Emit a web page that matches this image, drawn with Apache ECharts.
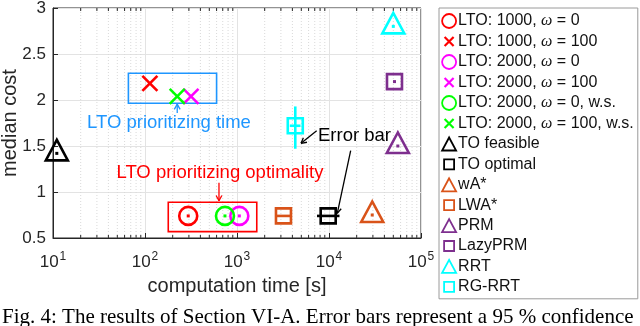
<!DOCTYPE html>
<html><head><meta charset="utf-8">
<script src="https://cdn.jsdelivr.net/npm/echarts@6/dist/echarts.min.js"></script>
<style>html,body{margin:0;padding:0;background:#fff}#c{width:640px;height:326px}</style>
</head><body><div id="c"></div>
<script>
const FONT = '"Liberation Sans", Arial, Helvetica, sans-serif';
const SERIF = '"Liberation Serif", "Times New Roman", serif';

// axis ticks
const xTicks = [10, 100, 1000, 10000, 100000];
const yTicks = [0.5, 1, 1.5, 2, 2.5, 3];
const minorX = [20,30,40,50,60,70,80,90, 200,300,400,500,600,700,800,900,
                2000,3000,4000,5000,6000,7000,8000,9000, 20000,30000,40000,50000,60000,70000,80000,90000];

// data: [time, cost, xErrLo, xErrHi, yErrLo, yErrHi]
const lto1000w0     = [[295, 0.74]];
const lto1000w100   = [[113, 2.18]];
const lto2000w0     = [[1060, 0.74]];
const lto2000w100   = [[316, 2.04]];
const lto2000w0ws   = [[740, 0.74]];
const lto2000w100ws = [[224, 2.04]];
const toFeasible    = [[11, 1.42]];
const toOptimal     = [[9800, 0.74, 7400, 13000, null, null]];
const wAstar        = [[29500, 0.75]];
const lwaStar       = [[3200, 0.74, 2650, 3850, null, null]];
const prm           = [[56000, 1.50]];
const lazyPrm       = [[51500, 2.20]];
const rrt           = [[50000, 2.80]];
const rgRrt         = [[4300, 1.72, 3750, 4900, 1.47, 1.93]];

// annotations (data coords)
const timeBox   = [[66, 1.965, 600, 2.29]];
const optBox    = [[179, 0.569, 1640, 0.888]];
const timeLabel = [[182, 1.75, 'LTO prioritizing time']];
const optLabel  = [[653, 1.207, 'LTO prioritizing optimality']];
const errLabel  = [[7590, 1.609, 'Error bar']];
const timeArrow = [[224, 1.86, 224, 1.955]];
const optArrow  = [[637, 1.10, 637, 0.905]];
const errArrows = [[7340, 1.666, 4970, 1.529], [17200, 1.449, 12300, 0.768]];

const BLUE = '#1E96FF';
const C = {
  red: '#FF0000', mag: '#FF00FF', grn: '#00FF00', blk: '#000000',
  org: '#D95319', pur: '#7E2F8E', cyn: '#00FFFF'
};

const seriesDefs = [
  {name: 'LTO: 1000, ω = 0', kind: 'circle', color: C.red, data: lto1000w0},
  {name: 'LTO: 1000, ω = 100', kind: 'cross', color: C.red, data: lto1000w100},
  {name: 'LTO: 2000, ω = 0', kind: 'circle', color: C.mag, data: lto2000w0},
  {name: 'LTO: 2000, ω = 100', kind: 'cross', color: C.mag, data: lto2000w100},
  {name: 'LTO: 2000, ω = 0, w.s.', kind: 'circle', color: C.grn, data: lto2000w0ws},
  {name: 'LTO: 2000, ω = 100, w.s.', kind: 'cross', color: C.grn, data: lto2000w100ws},
  {name: 'TO feasible', kind: 'triangle', color: C.blk, data: toFeasible},
  {name: 'TO optimal', kind: 'square', color: C.blk, data: toOptimal},
  {name: 'wA*', kind: 'triangle', color: C.org, data: wAstar},
  {name: 'LWA*', kind: 'square', color: C.org, data: lwaStar},
  {name: 'PRM', kind: 'triangle', color: C.pur, data: prm},
  {name: 'LazyPRM', kind: 'square', color: C.pur, data: lazyPrm},
  {name: 'RRT', kind: 'triangle', color: C.cyn, data: rrt},
  {name: 'RG-RRT', kind: 'square', color: C.cyn, data: rgRrt}
];

function lineEl(x1, y1, x2, y2, color, lw, dash) {
  return {type: 'line', shape: {x1, y1, x2, y2},
    style: {stroke: color, lineWidth: lw, lineDash: dash || null, fill: null}};
}

function markerRender(def) {
  return function (params, api) {
    const x = api.value(0), y = api.value(1);
    const p = api.coord([x, y]);
    const cx = p[0], cy = p[1];
    const col = def.color;
    const ch = [];
    const lw = 2.6;
    const dot = {type: 'rect', shape: {x: cx - 1.5, y: cy - 1.5, width: 3, height: 3}, style: {fill: col}};
    const raw = def.data[params.dataIndex];
    const hasErr = raw.length > 2;
    if (def.kind === 'circle') {
      ch.push({type: 'circle', shape: {cx, cy, r: 9}, style: {fill: null, stroke: col, lineWidth: lw}});
      ch.push(dot);
    } else if (def.kind === 'cross') {
      const s = 7.5;
      ch.push(lineEl(cx - s, cy - s, cx + s, cy + s, col, lw));
      ch.push(lineEl(cx - s, cy + s, cx + s, cy - s, col, lw));
    } else if (def.kind === 'triangle') {
      ch.push({type: 'polygon', shape: {points: [[cx, cy - 13.5], [cx - 11, cy + 7], [cx + 11, cy + 7]]},
        style: {fill: null, stroke: col, lineWidth: lw, lineJoin: 'miter'}});
      ch.push(dot);
    } else if (def.kind === 'square') {
      ch.push({type: 'rect', shape: {x: cx - 7.5, y: cy - 7.5, width: 15, height: 15},
        style: {fill: null, stroke: col, lineWidth: lw}});
      if (!hasErr) ch.push(dot);
    }
    if (hasErr) {
      if (raw[2] != null) {
        const a = api.coord([raw[2], y]), b = api.coord([raw[3], y]);
        ch.push(lineEl(a[0], a[1], b[0], b[1], col, lw));
      }
      if (raw[4] != null) {
        const a = api.coord([x, raw[4]]), b = api.coord([x, raw[5]]);
        ch.push(lineEl(a[0], a[1], b[0], b[1], col, lw));
      }
    }
    return {type: 'group', children: ch};
  };
}

function boxRender(color) {
  return function (params, api) {
    const a = api.coord([api.value(0), api.value(1)]);
    const b = api.coord([api.value(2), api.value(3)]);
    return {type: 'rect', shape: {x: Math.min(a[0], b[0]), y: Math.min(a[1], b[1]),
      width: Math.abs(b[0] - a[0]), height: Math.abs(b[1] - a[1])},
      style: {fill: null, stroke: color, lineWidth: 1.6}};
  };
}

function textRender(color, align) {
  return function (params, api) {
    const p = api.coord([api.value(0), api.value(1)]);
    return {type: 'text', x: p[0], y: p[1],
      style: {text: api.value(2), fill: color, fontSize: 18.5, fontFamily: FONT,
        align: align, verticalAlign: 'middle'}};
  };
}

function arrowRender(color, lw) {
  return function (params, api) {
    const t = api.coord([api.value(0), api.value(1)]);
    const h = api.coord([api.value(2), api.value(3)]);
    const ang = Math.atan2(h[1] - t[1], h[0] - t[0]);
    const L = 6, sp = 0.5;
    const p1 = [h[0] - L * Math.cos(ang - sp), h[1] - L * Math.sin(ang - sp)];
    const p2 = [h[0] - L * Math.cos(ang + sp), h[1] - L * Math.sin(ang + sp)];
    return {type: 'group', children: [
      lineEl(t[0], t[1], h[0], h[1], color, lw),
      lineEl(p1[0], p1[1], h[0], h[1], color, lw),
      lineEl(p2[0], p2[1], h[0], h[1], color, lw)
    ]};
  };
}

function minorGridRender(params, api) {
  const x = api.value(0);
  const b = api.coord([x, 0.5]), t = api.coord([x, 3]);
  return {type: 'group', children: [
    lineEl(b[0], b[1], t[0], t[1], '#d9d9d9', 1, [1, 2]),
    lineEl(b[0], b[1], b[0], b[1] - 3, '#262626', 1),
    lineEl(t[0], t[1], t[0], t[1] + 3, '#262626', 1)
  ]};
}

const series = [];
series.push({type: 'custom', name: '_minor', coordinateSystem: 'cartesian2d', silent: true, z: 1,
  data: minorX.map(v => [v, 1]), renderItem: minorGridRender, encode: {x: 0, y: 1}});

seriesDefs.forEach(def => {
  series.push({type: 'custom', name: def.name, coordinateSystem: 'cartesian2d', z: 5,
    itemStyle: {color: def.color}, data: def.data, renderItem: markerRender(def),
    encode: {x: 0, y: 1}, clip: false});
});

series.push({type: 'custom', name: '_tb', coordinateSystem: 'cartesian2d', z: 4, silent: true,
  data: timeBox, renderItem: boxRender(BLUE), encode: {x: [0, 2], y: [1, 3]}});
series.push({type: 'custom', name: '_ob', coordinateSystem: 'cartesian2d', z: 4, silent: true,
  data: optBox, renderItem: boxRender(C.red), encode: {x: [0, 2], y: [1, 3]}});
series.push({type: 'custom', name: '_tl', coordinateSystem: 'cartesian2d', z: 6, silent: true,
  data: timeLabel, renderItem: textRender(BLUE, 'center'), encode: {x: 0, y: 1}});
series.push({type: 'custom', name: '_ol', coordinateSystem: 'cartesian2d', z: 6, silent: true,
  data: optLabel, renderItem: textRender(C.red, 'center'), encode: {x: 0, y: 1}});
series.push({type: 'custom', name: '_el', coordinateSystem: 'cartesian2d', z: 6, silent: true,
  data: errLabel, renderItem: textRender('#000', 'left'), encode: {x: 0, y: 1}});
series.push({type: 'custom', name: '_ta', coordinateSystem: 'cartesian2d', z: 6, silent: true,
  data: timeArrow, renderItem: arrowRender(BLUE, 1.3), encode: {x: [0, 2], y: [1, 3]}});
series.push({type: 'custom', name: '_oa', coordinateSystem: 'cartesian2d', z: 6, silent: true,
  data: optArrow, renderItem: arrowRender(C.red, 1.3), encode: {x: [0, 2], y: [1, 3]}});
series.push({type: 'custom', name: '_ea', coordinateSystem: 'cartesian2d', z: 6, silent: true,
  data: errArrows, renderItem: arrowRender('#000', 1.3), encode: {x: [0, 2], y: [1, 3]}});

const ICONS = {
  circle: 'circle',
  cross: 'path://M0,0M2.5,2.5L11.5,11.5M11.5,2.5L2.5,11.5M14,14',
  triangle: 'path://M7,0.5L0,13.5L14,13.5Z',
  square: 'path://M0,0M2,2L12,2L12,12L2,12Z M14,14'
};

const legendData = seriesDefs.map(d => ({
  name: d.name,
  icon: ICONS[d.kind],
  itemStyle: {color: 'rgba(0,0,0,0)', borderColor: d.color, borderWidth: d.kind === 'cross' ? 2.2 : 1.8}
}));

const chart = echarts.init(document.getElementById('c'), null, {renderer: 'canvas'});
chart.setOption({
  animation: false,
  backgroundColor: '#fff',
  textStyle: {fontFamily: FONT},
  grid: {left: 53, right: 219, top: 8, bottom: 88, show: true, borderColor: '#262626', borderWidth: 1,
    backgroundColor: '#fff', containLabel: false, outerBoundsMode: 'none'},
  xAxis: {
    type: 'log', logBase: 10, min: xTicks[0], max: xTicks[xTicks.length - 1],
    name: 'computation time [s]', nameLocation: 'middle', nameGap: 38, nameMoveOverlap: false,
    nameTextStyle: {fontSize: 20, color: '#262626', fontFamily: FONT},
    axisLine: {show: true, lineStyle: {color: '#262626', width: 1}},
    axisTick: {show: true, inside: true, length: 5, lineStyle: {color: '#262626'}},
    splitLine: {show: true, lineStyle: {color: '#e3e3e3', width: 1}},
    minorTick: {show: false}, minorSplitLine: {show: false},
    axisLabel: {
      color: '#262626', margin: 8,
      formatter: v => '{b|10}{s|' + Math.round(Math.log10(v)) + '}',
      rich: {
        b: {fontSize: 17, fontFamily: FONT, color: '#262626', padding: [8, 0, 0, 0]},
        s: {fontSize: 12, fontFamily: FONT, color: '#262626', padding: [0, 0, 4, 1]}
      }
    }
  },
  yAxis: {
    type: 'value', min: yTicks[0], max: yTicks[yTicks.length - 1], interval: 0.5,
    name: 'median cost', nameLocation: 'middle', nameGap: 33, nameRotate: 90, nameMoveOverlap: false,
    nameTextStyle: {fontSize: 20, color: '#262626', fontFamily: FONT},
    axisLine: {show: true, lineStyle: {color: '#262626', width: 1}},
    axisTick: {show: true, inside: true, length: 5, lineStyle: {color: '#262626'}},
    splitLine: {show: true, lineStyle: {color: '#e3e3e3', width: 1}},
    axisLabel: {color: '#262626', fontSize: 17, fontFamily: FONT, margin: 7,
      formatter: v => String(v)}
  },
  legend: {
    show: true, orient: 'vertical', left: 439, top: 8, selectedMode: false,
    padding: [5, 4, 4, 2], itemGap: 4.4, itemWidth: 14, itemHeight: 14,
    borderColor: '#9a9a9a', borderWidth: 1, backgroundColor: '#fff',
    data: legendData,
    formatter: n => n.replace('ω', '{i|ω}'),
    textStyle: {fontSize: 16, fontFamily: FONT, color: '#111', lineHeight: 14, padding: [0, 0, 0, -3],
      rich: {i: {fontSize: 16, fontStyle: 'italic', fontFamily: SERIF, color: '#111', lineHeight: 14}}}
  },
  graphic: [{
    type: 'text', left: 2, top: 307,
    style: {text: 'Fig. 4: The results of Section VI-A. Error bars represent a 95 % confidence',
      fontSize: 21, fontFamily: SERIF, fill: '#000'}
  }],
  series: series
});
</script></body></html>
